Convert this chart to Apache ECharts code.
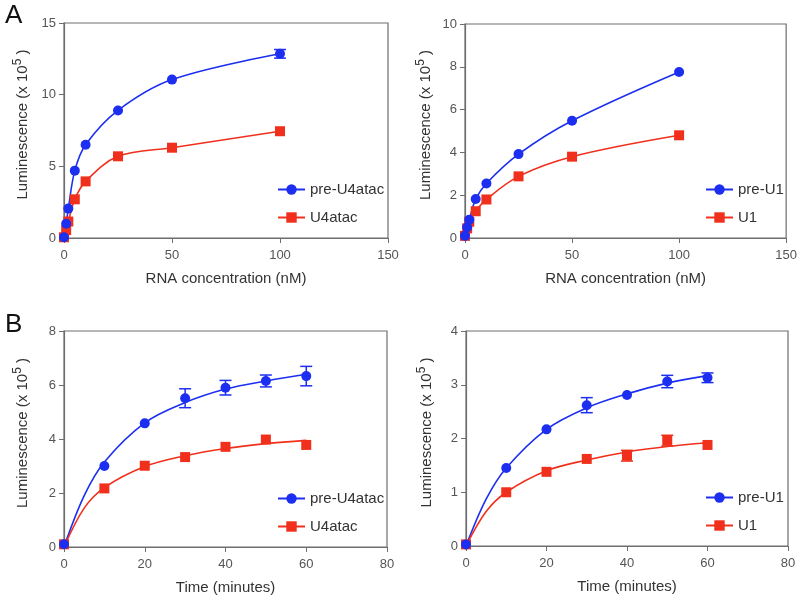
<!DOCTYPE html>
<html>
<head>
<meta charset="utf-8">
<script src="https://cdn.jsdelivr.net/npm/echarts@6/dist/echarts.min.js"></script>
<style>
  html, body { margin: 0; padding: 0; background: #fff; }
  #chart { width: 800px; height: 604px; }
</style>
</head>
<body>
<div id="chart"></div>
<script>
// A: concentration series (nM)
const concX = [0, 1, 2, 5, 10, 25, 50, 100]
const preU4atacConc = [0.05, 1.0, 2.05, 4.7, 6.5, 8.9, 11.05, 12.85]
const u4atacConc = [0.05, 0.55, 1.15, 2.7, 3.95, 5.7, 6.3, 7.45]
const preU4atacConcErr = [0, 0, 0, 0, 0, 0, 0, 0.3]
const preU1Conc = [0.1, 0.5, 0.85, 1.82, 2.55, 3.92, 5.48, 7.76]
const u1Conc = [0.1, 0.45, 0.76, 1.25, 1.8, 2.88, 3.8, 4.8]

// B: time series (minutes)
const timeX = [0, 10, 20, 30, 40, 50, 60]
const preU4atacTime = [0.1, 3.0, 4.58, 5.51, 5.9, 6.15, 6.33]
const preU4atacTimeErr = [0, 0, 0, 0.35, 0.27, 0.22, 0.36]
const u4atacTime = [0.1, 2.17, 3.01, 3.33, 3.71, 3.98, 3.78]
const u4atacTimeErr = [0, 0, 0, 0, 0, 0, 0]
const preU1Time = [0.03, 1.45, 2.17, 2.62, 2.81, 3.06, 3.13]
const preU1TimeErr = [0, 0, 0, 0.14, 0, 0.115, 0.09]
const u1Time = [0.03, 1.0, 1.38, 1.62, 1.68, 1.96, 1.88]
const u1TimeErr = [0, 0, 0, 0, 0.1, 0.1, 0]

// fitted curves
const fitX = [0, 5, 10, 20, 30, 40, 50, 60]
const preU4atacFit = [0, 1.9, 3.15, 4.6, 5.35, 5.85, 6.15, 6.4]
const u4atacFit = [0, 1.44, 2.2, 2.98, 3.38, 3.65, 3.83, 3.95]
const preU1Fit = [0, 0.87, 1.45, 2.17, 2.57, 2.83, 3.03, 3.17]
const u1Fit = [0, 0.64, 1.0, 1.4, 1.6, 1.75, 1.85, 1.92]

const BLUE = '#1c2ff0'
const RED = '#f0301c'
const AXIS = '#6e6e6e'
const FONT = 'Liberation Sans'

const zip = (xs, ys) => xs.map((x, i) => [x, ys[i]])
const zipErr = (xs, ys, es) => xs.map((x, i) => [x, ys[i], es[i]]).filter(d => d[2] > 0)

// 四个图的网格位置
const grids = [
  { left: 64, top: 23, width: 324, height: 215 },
  { left: 465, top: 24, width: 323, height: 214 },
  { left: 64, top: 331, width: 323, height: 216 },
  { left: 466, top: 331, width: 322, height: 215 }
]

function xAxis(idx, max, interval, name) {
  return {
    gridIndex: idx, type: 'value', min: 0, max: max, interval: interval,
    name: name, nameLocation: 'middle', nameGap: 33,
    nameTextStyle: { fontFamily: FONT, fontSize: 15, color: '#333' },
    axisLine: { lineStyle: { color: AXIS, width: 1.2 } },
    axisTick: { length: 5, lineStyle: { color: AXIS } },
    axisLabel: { fontFamily: FONT, fontSize: 13, color: '#555', margin: 11 },
    splitLine: { show: false }
  }
}

function yAxis(idx, max, interval, gap) {
  return {
    gridIndex: idx, type: 'value', min: 0, max: max, interval: interval,
    name: 'Luminescence (x 10{sup|5} )', nameLocation: 'middle', nameGap: gap, nameRotate: 90,
    nameTextStyle: {
      fontFamily: FONT, fontSize: 15, color: '#333', padding: [0, 0, 0, 12],
      rich: { sup: { fontFamily: FONT, fontSize: 12, color: '#333', padding: [0, 0, 9, 0] } }
    },
    axisLine: { show: true, lineStyle: { color: AXIS, width: 1.2 } },
    axisTick: { show: true, length: 5, lineStyle: { color: AXIS } },
    axisLabel: { fontFamily: FONT, fontSize: 13, color: '#555', margin: 8 },
    splitLine: { show: false }
  }
}

function curve(idx, name, data, color, symbol) {
  return {
    name: name, type: 'line', xAxisIndex: idx, yAxisIndex: idx,
    data: data, smooth: 0.35, symbol: symbol, symbolSize: 10, showSymbol: false,
    lineStyle: { color: color, width: 1.6 }, itemStyle: { color: color },
    silent: true, animation: false, z: 2
  }
}

function points(idx, name, data, color, symbol) {
  return {
    name: name, type: 'scatter', xAxisIndex: idx, yAxisIndex: idx,
    data: data, symbol: symbol, symbolSize: 10,
    itemStyle: { color: color, opacity: 1 }, animation: false, z: 4
  }
}

// 误差棒
function errBars(idx, name, data, color) {
  return {
    name: name, type: 'custom', xAxisIndex: idx, yAxisIndex: idx,
    data: data, animation: false, z: 3,
    renderItem: (params, api) => {
      const x = api.value(0), y = api.value(1), e = api.value(2)
      const hi = api.coord([x, y + e])
      const lo = api.coord([x, y - e])
      const w = 6
      const style = { stroke: color, lineWidth: 1.5 }
      return {
        type: 'group',
        children: [
          { type: 'line', shape: { x1: hi[0], y1: hi[1], x2: lo[0], y2: lo[1] }, style: style },
          { type: 'line', shape: { x1: hi[0] - w, y1: hi[1], x2: hi[0] + w, y2: hi[1] }, style: style },
          { type: 'line', shape: { x1: lo[0] - w, y1: lo[1], x2: lo[0] + w, y2: lo[1] }, style: style }
        ]
      }
    }
  }
}

function legend(left, top, names) {
  return {
    orient: 'vertical', left: left, top: top, padding: 0,
    itemWidth: 27, itemHeight: 13, itemGap: 13,
    selectedMode: false, data: names,
    textStyle: { fontFamily: FONT, fontSize: 15, color: '#333' }
  }
}

const myChart = echarts.init(document.getElementById('chart'))

const option = {
  backgroundColor: '#fff',
  animation: false,
  grid: grids.map(g => Object.assign({ show: true, borderColor: AXIS, borderWidth: 1.2, backgroundColor: 'transparent' }, g)),
  xAxis: [
    xAxis(0, 150, 50, 'RNA concentration (nM)'),
    xAxis(1, 150, 50, 'RNA concentration (nM)'),
    xAxis(2, 80, 20, 'Time (minutes)'),
    xAxis(3, 80, 20, 'Time (minutes)')
  ],
  yAxis: [yAxis(0, 15, 5, 31), yAxis(1, 10, 2, 29), yAxis(2, 8, 2, 31), yAxis(3, 4, 1, 29)],
  legend: [
    legend(277, 182, ['pre-U4atac', 'U4atac']),
    legend(705, 182, ['pre-U1', 'U1']),
    legend(277, 491, ['pre-U4atac', 'U4atac']),
    legend(705, 490, ['pre-U1', 'U1'])
  ],
  graphic: [
    { type: 'text', left: 5, top: 3, style: { text: 'A', font: '26px "Liberation Sans"', fill: '#111' } },
    { type: 'text', left: 5, top: 312, style: { text: 'B', font: '26px "Liberation Sans"', fill: '#111' } }
  ],
  series: [
    // A left
    curve(0, 'pre-U4atac', zip(concX, preU4atacConc), BLUE, 'circle'),
    curve(0, 'U4atac', zip(concX, u4atacConc), RED, 'rect'),
    errBars(0, 'pre-U4atac', zipErr(concX, preU4atacConc, preU4atacConcErr), BLUE),
    points(0, 'U4atac', zip(concX, u4atacConc), RED, 'rect'),
    points(0, 'pre-U4atac', zip(concX, preU4atacConc), BLUE, 'circle'),
    // A right
    curve(1, 'pre-U1', zip(concX, preU1Conc), BLUE, 'circle'),
    curve(1, 'U1', zip(concX, u1Conc), RED, 'rect'),
    points(1, 'U1', zip(concX, u1Conc), RED, 'rect'),
    points(1, 'pre-U1', zip(concX, preU1Conc), BLUE, 'circle'),
    // B left
    curve(2, 'pre-U4atac', zip(fitX, preU4atacFit), BLUE, 'circle'),
    curve(2, 'U4atac', zip(fitX, u4atacFit), RED, 'rect'),
    errBars(2, 'pre-U4atac', zipErr(timeX, preU4atacTime, preU4atacTimeErr), BLUE),
    errBars(2, 'U4atac', zipErr(timeX, u4atacTime, u4atacTimeErr), RED),
    points(2, 'U4atac', zip(timeX, u4atacTime), RED, 'rect'),
    points(2, 'pre-U4atac', zip(timeX, preU4atacTime), BLUE, 'circle'),
    // B right
    curve(3, 'pre-U1', zip(fitX, preU1Fit), BLUE, 'circle'),
    curve(3, 'U1', zip(fitX, u1Fit), RED, 'rect'),
    errBars(3, 'pre-U1', zipErr(timeX, preU1Time, preU1TimeErr), BLUE),
    errBars(3, 'U1', zipErr(timeX, u1Time, u1TimeErr), RED),
    points(3, 'U1', zip(timeX, u1Time), RED, 'rect'),
    points(3, 'pre-U1', zip(timeX, preU1Time), BLUE, 'circle')
  ]
}

myChart.setOption(option)

window.addEventListener('resize', () => { myChart.resize() })
</script>
</body>
</html>
